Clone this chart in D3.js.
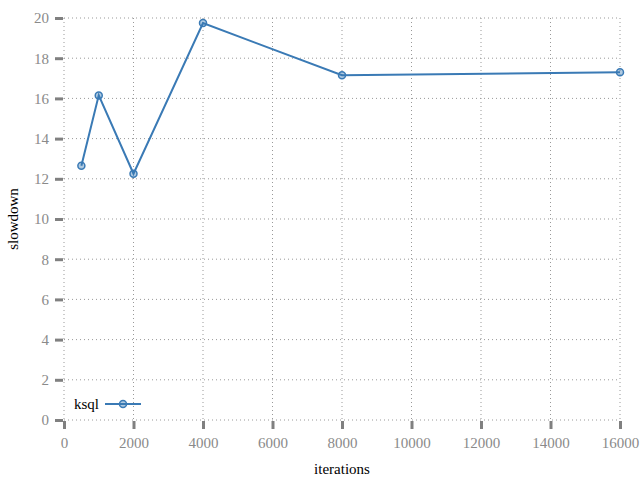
<!DOCTYPE html>
<html>
<head>
<meta charset="utf-8">
<script src="https://cdn.jsdelivr.net/npm/d3@7"></script>
<style>
body { margin: 0; background: #fff; }
svg { display: block; }
</style>
</head>
<body>
<svg id="chart" width="640" height="480"></svg>
<script>
var iterations = [500, 1000, 2000, 4000, 8000, 16000];
var slowdown = [12.65, 16.15, 12.25, 19.75, 17.15, 17.3];
var series_name = "ksql";
var x_ticks = [0, 2000, 4000, 6000, 8000, 10000, 12000, 14000, 16000];
var y_ticks = [0, 2, 4, 6, 8, 10, 12, 14, 16, 18, 20];

var width = 640, height = 480;
var margin = {left: 64, right: 20, top: 18, bottom: 60};
var font = "'Liberation Serif', 'Times New Roman', serif";
var line_color = "#3a7ab5";

var svg = d3.select("#chart");

var x = d3.scaleLinear().domain([0, 16000]).range([margin.left, width - margin.right]);
var y = d3.scaleLinear().domain([0, 20]).range([height - margin.bottom, margin.top]);

// grid
var grid = svg.append("g");
grid.selectAll(".gx").data(x_ticks).enter().append("line")
    .attr("x1", function(d){ return x(d); }).attr("x2", function(d){ return x(d); })
    .attr("y1", y(20)).attr("y2", y(0))
    .attr("stroke", "#999").attr("stroke-dasharray", "1,3");
grid.selectAll(".gy").data(y_ticks).enter().append("line")
    .attr("x1", x(0)).attr("x2", x(16000))
    .attr("y1", function(d){ return y(d); }).attr("y2", function(d){ return y(d); })
    .attr("stroke", "#999").attr("stroke-dasharray", "1,3");

// axes
var yAxis = d3.axisLeft(y).tickValues(y_ticks).tickSize(8).tickPadding(6).tickFormat(d3.format("d"));
var xAxis = d3.axisBottom(x).tickValues(x_ticks).tickSize(8).tickPadding(8).tickFormat(d3.format("d"));

var gy = svg.append("g").attr("transform", "translate(" + (x(0) - 1) + ",0)").call(yAxis);
var gx = svg.append("g").attr("transform", "translate(0," + (y(0) + 1) + ")").call(xAxis);
[gx, gy].forEach(function(g){
    g.select(".domain").remove();
    g.selectAll(".tick line").attr("stroke", "#808080").attr("stroke-width", 3);
    g.selectAll(".tick text").attr("fill", "#8a8a8a")
        .style("font-family", font).style("font-size", "15px");
});

// axis titles
svg.append("text")
    .attr("x", (x(0) + x(16000)) / 2).attr("y", 474)
    .attr("text-anchor", "middle")
    .style("font-family", font).style("font-size", "15px")
    .text("iterations");
svg.append("text")
    .attr("transform", "translate(18," + ((y(0) + y(20)) / 2) + ") rotate(-90)")
    .attr("text-anchor", "middle")
    .style("font-family", font).style("font-size", "15px")
    .text("slowdown");

// series
var pts = iterations.map(function(d, i){ return [d, slowdown[i]]; });
var line = d3.line().x(function(d){ return x(d[0]); }).y(function(d){ return y(d[1]); });
svg.append("path").datum(pts)
    .attr("d", line).attr("fill", "none")
    .attr("stroke", line_color).attr("stroke-width", 2);
svg.selectAll(".pt").data(pts).enter().append("circle")
    .attr("cx", function(d){ return x(d[0]); })
    .attr("cy", function(d){ return y(d[1]); })
    .attr("r", 3.5)
    .attr("fill", line_color).attr("fill-opacity", 0.4)
    .attr("stroke", line_color).attr("stroke-width", 1.5);

// legend
var lg = svg.append("g").attr("transform", "translate(0,404)");
lg.append("text").attr("x", 99).attr("y", 5).attr("text-anchor", "end")
    .style("font-family", font).style("font-size", "15px").text(series_name);
lg.append("line").attr("x1", 105).attr("x2", 141).attr("y1", 0).attr("y2", 0)
    .attr("stroke", line_color).attr("stroke-width", 2);
lg.append("circle").attr("cx", 123).attr("cy", 0).attr("r", 3.5)
    .attr("fill", line_color).attr("fill-opacity", 0.4)
    .attr("stroke", line_color).attr("stroke-width", 1.5);
</script>
</body>
</html>
